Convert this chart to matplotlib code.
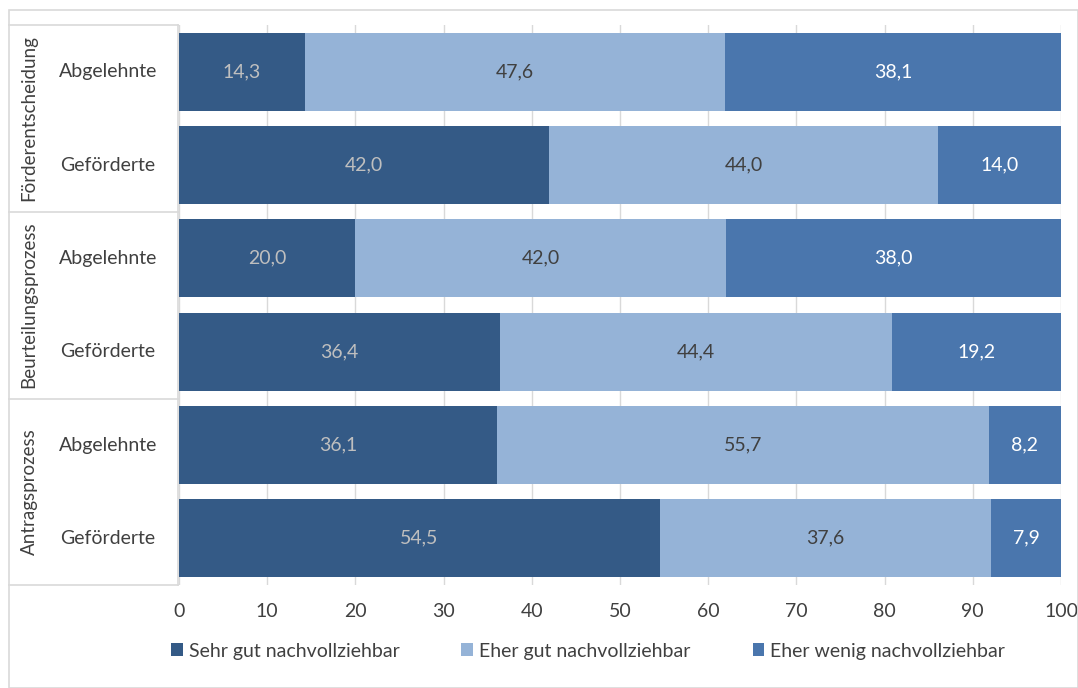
import matplotlib.pyplot as plt
from matplotlib.lines import Line2D
from matplotlib.patches import Rectangle

plt.rcParams['font.family'] = ['Lato', 'DejaVu Sans']

# data, top to bottom
groups = ['Förderentscheidung', 'Beurteilungsprozess', 'Antragsprozess']
rows = ['Abgelehnte', 'Geförderte', 'Abgelehnte', 'Geförderte', 'Abgelehnte', 'Geförderte']
series = ['Sehr gut nachvollziehbar', 'Eher gut nachvollziehbar', 'Eher wenig nachvollziehbar']
sehr_gut = [14.3, 42.0, 20.0, 36.4, 36.1, 54.5]
eher_gut = [47.6, 44.0, 42.0, 44.4, 55.7, 37.6]
eher_wenig = [38.1, 14.0, 38.0, 19.2, 8.2, 7.9]

colors = ['#345A86', '#95B3D7', '#4A76AD']
label_colors = ['#BFBFBF', '#404040', '#FFFFFF']
fs = 14

W, H = 1078, 688
fig = plt.figure(figsize=(W / 100, H / 100), dpi=100)
ax = fig.add_axes([179 / W, 1 - 585 / H, (1061 - 179) / W, (585 - 25) / H])

ypos = list(range(len(rows)))
left = [0.0] * len(rows)
for vals, c, lc, name in zip([sehr_gut, eher_gut, eher_wenig], colors, label_colors, series):
    bars = ax.barh(ypos, vals, left=left, height=0.835, color=c, label=name, zorder=2)
    ax.bar_label(bars, labels=[f'{v:.1f}'.replace('.', ',') for v in vals],
                 label_type='center', color=lc, fontsize=fs)
    left = [l + v for l, v in zip(left, vals)]

ax.set_xlim(0, 100)
ax.set_ylim(len(rows) - 0.5, -0.5)
ax.set_xticks(range(0, 101, 10))
ax.set_yticks([])
ax.tick_params(axis='x', length=0, labelsize=fs, labelcolor='#404040', pad=13)
ax.grid(axis='x', color='#D9D9D9', linewidth=1, zorder=0)
for s in ax.spines.values():
    s.set_visible(False)

# category table on the left
def fy(y):
    return 1 - y / H

x0, x1 = 9 / W, 178 / W
fig.add_artist(Line2D([x1, x1], [fy(25), fy(585)], color='#D9D9D9', lw=1.2))
for yb in [25, 212, 399, 585]:
    fig.add_artist(Line2D([x0, x1], [fy(yb), fy(yb)], color='#D9D9D9', lw=1.2))

ax_to_fig = lambda yd: fig.transFigure.inverted().transform(ax.transData.transform((0, yd)))[1]
for i, r in enumerate(rows):
    fig.text(108 / W, ax_to_fig(i), r, ha='center', va='center', fontsize=fs, color='#404040')
for g, name in enumerate(groups):
    yc = ax_to_fig(2 * g + 0.5)
    fig.text(29 / W, yc, name, ha='center', va='center', rotation=90, fontsize=13.5, color='#404040')

# outer frame
fig.add_artist(Rectangle((9 / W, 0), 1 - 9 / W, fy(10), transform=fig.transFigure,
                         fill=False, edgecolor='#D9D9D9', lw=1.2))

fig.legend(loc='center', bbox_to_anchor=(588 / W, fy(651)), ncol=3, frameon=False,
           fontsize=fs, labelcolor='#404040', handlelength=0.6, handleheight=0.6,
           handletextpad=0.3, columnspacing=3.2)

fig.savefig('out.png', dpi=100)
